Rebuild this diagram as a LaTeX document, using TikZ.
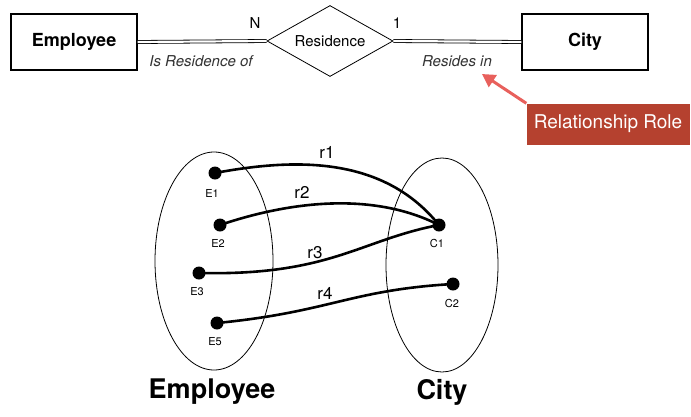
\documentclass[tikz,border=0pt]{standalone}
\usepackage{fontspec}
\setmainfont{TeX Gyre Heros}
\usetikzlibrary{shapes.geometric,arrows.meta}

\definecolor{rolefill}{HTML}{B5412F}
\definecolor{rolearrow}{HTML}{E8605C}

\tikzset{
  entitybox/.style={draw,line width=1.2pt,minimum width=126pt,minimum height=56pt,font=\fontsize{18}{20}\selectfont\bfseries},
  relbox/.style={draw,diamond,aspect=1.77,inner sep=0pt,minimum width=126pt,minimum height=71pt,line width=0.8pt,font=\fontsize{15}{17}\selectfont},
  dbl/.style={double,double distance=2.2pt,line width=0.8pt},
  rolelab/.style={font=\fontsize{15}{17}\selectfont\itshape,text=black!80},
  dot/.style={circle,fill=black,inner sep=0pt,minimum size=13pt},
  dotlab/.style={font=\fontsize{11}{12}\selectfont},
  link/.style={line width=2.6pt},
  linklab/.style={font=\fontsize{17}{19}\selectfont},
  setlab/.style={font=\fontsize{27}{30}\selectfont\bfseries}
}

\begin{document}
\begin{tikzpicture}[x=1pt,y=-1pt]
  \useasboundingbox (0,0) rectangle (691,416);

  % ER diagram
  \node[entitybox] (emp) at (74,42) {Employee};
  \node[relbox] (res) at (330,41) {Residence};
  \node[entitybox] (city) at (585,42) {City};
  \draw[dbl] (emp.east) -- (res.west);
  \draw[dbl] (res.east) -- (city.west);
  \node[font=\fontsize{15}{17}\selectfont] (n) at (255,23) {N};
  \node[font=\fontsize{15}{17}\selectfont] (one) at (397,23) {1};
  \node[rolelab] (isres) at (201,61) {Is Residence of};
  \node[rolelab] (resin) at (457,61) {Resides in};

  % role callout
  \node[fill=rolefill,text=white,minimum width=163pt,minimum height=41pt,inner sep=0pt,
    font=\fontsize{19}{21}\selectfont] (role) at (608,124) {Relationship Role};
  \coordinate (tip) at (482,74);
  \draw[rolearrow,line width=3pt,-{Triangle[length=13pt,width=14pt]}] (role.north west) -- (tip);

  % instance diagram
  \draw[line width=0.8pt] (214,261) ellipse [x radius=59, y radius=109];
  \draw[line width=0.8pt] (442,265) ellipse [x radius=56, y radius=107];

  \node[dot] (e1) at (215,173) {};
  \node[dot] (e2) at (220,225) {};
  \node[dot] (e3) at (199,273) {};
  \node[dot] (e5) at (217,323) {};
  \node[dot] (c1) at (439,225) {};
  \node[dot] (c2) at (453,284) {};
  \node[dotlab] at (212,193) {E1};
  \node[dotlab] at (218,243) {E2};
  \node[dotlab] at (197,292) {E3};
  \node[dotlab] at (215,342) {E5};
  \node[dotlab] at (437,243) {C1};
  \node[dotlab] at (452,303) {C2};

  \draw[link] (e1.center) .. controls (300,157) and (385,158) .. (c1.center);
  \draw[link] (e2.center) .. controls (285,203) and (370,190) .. (c1.center);
  \draw[link] (e3.center) .. controls (330,276) and (360,240) .. (c1.center);
  \draw[link] (e5.center) .. controls (330,312) and (350,290) .. (c2.center);
  \node[linklab] at (327,152) {r1};
  \node[linklab] at (302,192) {r2};
  \node[linklab] at (315,253) {r3};
  \node[linklab] at (325,293) {r4};

  \node[setlab] (empset) at (212,392) {Employee};
  \node[setlab] (cityset) at (442,392) {City};
\end{tikzpicture}
\end{document}
